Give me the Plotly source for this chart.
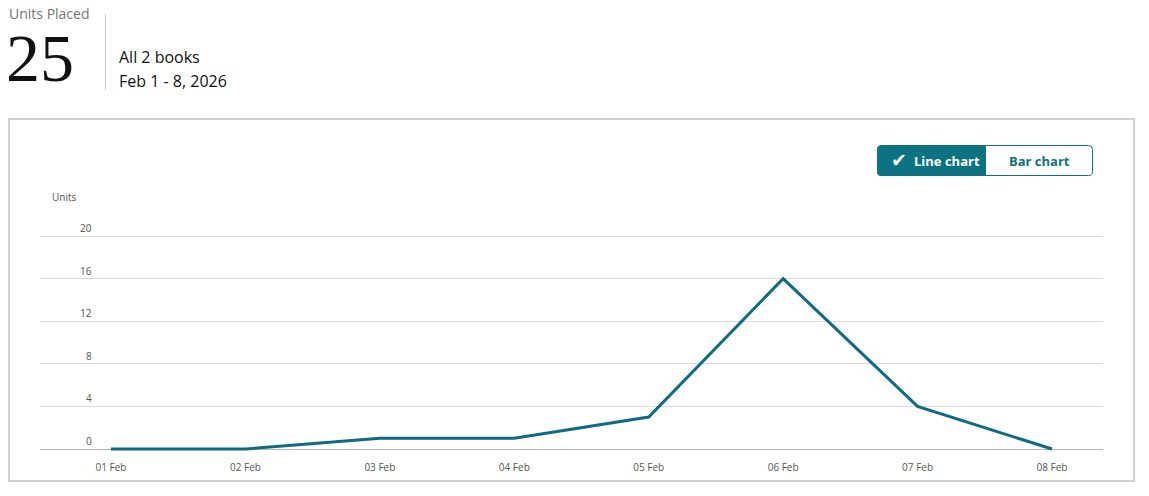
import plotly.graph_objects as go

# ---- data ----
dates = ["01 Feb", "02 Feb", "03 Feb", "04 Feb", "05 Feb", "06 Feb", "07 Feb", "08 Feb"]
units = [0, 0, 1, 1, 3, 16, 4, 0]
y_ticks = [0, 4, 8, 12, 16, 20]
y_tick_labels = ["0", "4", "8", "12", "16", "20"]
total_units = 25
summary_title = "Units Placed"
summary_lines = ["All 2 books", "Feb 1 - 8, 2026"]
toggle_labels = ["Line chart", "Bar chart"]

W, H = 1149, 496
LINE_COLOR = "#0f6b85"
TEAL = "#0d7382"
FONT = "Open Sans"


def px(x):
    return x / W


def py(y):
    return 1 - y / H


# plot geometry (pixels)
x_left, x_right = 40, 1103
x_first, x_last = 111, 1052
step = (x_last - x_first) / (len(dates) - 1)
y_zero_px, y_top_px = 449, 236
ppu = (y_zero_px - y_top_px) / 20
dom_top_px, dom_bot_px = 230, 455
y_lo = -(dom_bot_px - y_zero_px) / ppu
y_hi = 20 + (y_top_px - dom_top_px) / ppu

fig = go.Figure()
fig.add_trace(go.Scatter(
    x=list(range(len(dates))), y=units, mode="lines",
    line=dict(color=LINE_COLOR, width=3), hoverinfo="skip",
))

fig.update_layout(
    width=W, height=H,
    margin=dict(l=0, r=0, t=0, b=0),
    paper_bgcolor="white", plot_bgcolor="white",
    showlegend=False,
    font=dict(family=FONT, color="#555"),
    xaxis=dict(
        domain=[px(x_left), px(x_right)],
        range=[-(x_first - x_left) / step, len(dates) - 1 + (x_right - x_last) / step],
        tickmode="array", tickvals=list(range(len(dates))), ticktext=dates,
        showgrid=False, zeroline=False, showline=False, ticks="",
        tickfont=dict(size=10, color="#555", family=FONT),
        ticklabelstandoff=5,
    ),
    yaxis=dict(
        domain=[py(dom_bot_px), py(dom_top_px)],
        range=[y_lo, y_hi],
        tickmode="array", tickvals=y_ticks, ticktext=[""] * len(y_ticks),
        showgrid=True, gridcolor="#dcdcdc", gridwidth=1,
        zeroline=True, zerolinecolor="#b8b8b8", zerolinewidth=1,
        showline=False, ticks="", showticklabels=False,
    ),
)

annotations = []
# y tick labels above gridlines
for v, lab in zip(y_ticks, y_tick_labels):
    annotations.append(dict(
        xref="paper", yref="y", x=px(94), y=v, text=lab, showarrow=False,
        xanchor="right", yanchor="bottom", yshift=-1,
        font=dict(size=10, color="#555", family=FONT),
    ))
annotations.append(dict(
    xref="paper", yref="paper", x=px(50), y=py(197), text="Units", showarrow=False,
    xanchor="left", yanchor="middle", font=dict(size=10, color="#555", family=FONT),
))
# header
annotations.append(dict(
    xref="paper", yref="paper", x=px(7), y=py(14), text=summary_title, showarrow=False,
    xanchor="left", yanchor="middle", font=dict(size=14, color="#767676", family=FONT),
))
annotations.append(dict(
    xref="paper", yref="paper", x=px(4), y=py(58), text=str(total_units), showarrow=False,
    xanchor="left", yanchor="middle", font=dict(size=68, color="#111", family="Liberation Serif"),
))
annotations.append(dict(
    xref="paper", yref="paper", x=px(117), y=py(57), text=summary_lines[0], showarrow=False,
    xanchor="left", yanchor="middle", font=dict(size=16, color="#111", family=FONT),
))
annotations.append(dict(
    xref="paper", yref="paper", x=px(117), y=py(81), text=summary_lines[1], showarrow=False,
    xanchor="left", yanchor="middle", font=dict(size=16, color="#111", family=FONT),
))
# toggle buttons
annotations.append(dict(
    xref="paper", yref="paper", x=px(899), y=py(160), text="✔",
    showarrow=False, xanchor="center", yanchor="middle",
    font=dict(size=19, color="white", family="DejaVu Sans"),
))
annotations.append(dict(
    xref="paper", yref="paper", x=px(912), y=py(160.5), text="<b>" + toggle_labels[0] + "</b>",
    showarrow=False, xanchor="left", yanchor="middle",
    font=dict(size=13, color="white", family=FONT),
))
annotations.append(dict(
    xref="paper", yref="paper", x=px(1039), y=py(160.5), text="<b>" + toggle_labels[1] + "</b>",
    showarrow=False, xanchor="center", yanchor="middle",
    font=dict(size=13, color=TEAL, family=FONT),
))
fig.update_layout(annotations=annotations)


def rounded_path(x0, y0, x1, y1, r, left=True, right=True):
    # pixel coords -> paper path; y0 top, y1 bottom
    def P(x, y):
        return f"{px(x):.6f},{py(y):.6f}"
    parts = []
    if left:
        parts.append(f"M{P(x0 + r, y0)}")
    else:
        parts.append(f"M{P(x0, y0)}")
    if right:
        parts.append(f"L{P(x1 - r, y0)}")
        parts.append(f"Q{P(x1, y0)} {P(x1, y0 + r)}")
        parts.append(f"L{P(x1, y1 - r)}")
        parts.append(f"Q{P(x1, y1)} {P(x1 - r, y1)}")
    else:
        parts.append(f"L{P(x1, y0)}")
        parts.append(f"L{P(x1, y1)}")
    if left:
        parts.append(f"L{P(x0 + r, y1)}")
        parts.append(f"Q{P(x0, y1)} {P(x0, y1 - r)}")
        parts.append(f"L{P(x0, y0 + r)}")
        parts.append(f"Q{P(x0, y0)} {P(x0 + r, y0)}")
    else:
        parts.append(f"L{P(x0, y1)}")
        parts.append(f"L{P(x0, y0)}")
    parts.append("Z")
    return " ".join(parts)


shapes = [
    # outer container
    dict(type="rect", xref="paper", yref="paper", x0=px(9), x1=px(1134), y0=py(481), y1=py(119),
         line=dict(color="#d0d0d0", width=2), fillcolor="rgba(0,0,0,0)", layer="below"),
    # header divider
    dict(type="line", xref="paper", yref="paper", x0=px(105.5), x1=px(105.5), y0=py(14), y1=py(90),
         line=dict(color="#cfcfcf", width=1)),
    # toggle outline
    dict(type="path", xref="paper", yref="paper",
         path=rounded_path(877.5, 145.5, 1092.5, 175.5, 4),
         line=dict(color=TEAL, width=1), fillcolor="white", layer="below"),
    # active button fill
    dict(type="path", xref="paper", yref="paper",
         path=rounded_path(877.5, 145.5, 985.5, 175.5, 4, left=True, right=False),
         line=dict(color=TEAL, width=1), fillcolor=TEAL, layer="below"),
]
fig.update_layout(shapes=shapes)

fig.write_html("out.html")
